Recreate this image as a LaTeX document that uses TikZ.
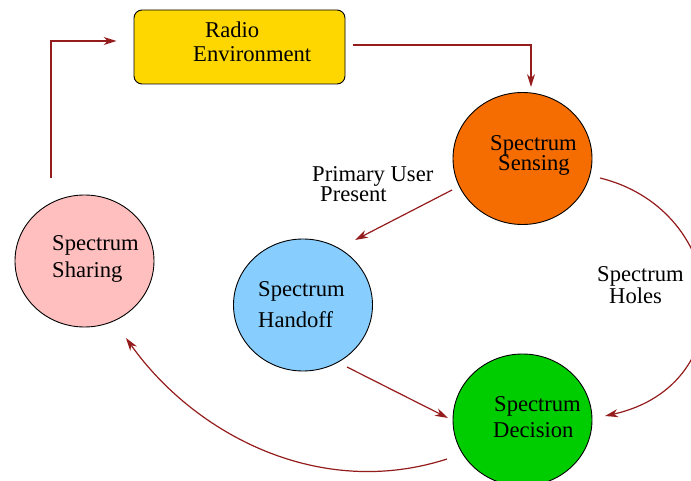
\documentclass[tikz,border=0pt]{standalone}
\usepackage{fontspec}
\setmainfont{Liberation Serif}
\usetikzlibrary{arrows.meta,shapes.geometric}

\definecolor{boxyellow}{HTML}{FFD700}
\definecolor{senseorange}{HTML}{F56C00}
\definecolor{sharepink}{HTML}{FFBFBF}
\definecolor{handblue}{HTML}{87CEFF}
\definecolor{decgreen}{HTML}{00CD00}
\definecolor{arrred}{HTML}{951C1C}

\tikzset{
  stage/.style={ellipse, draw=black, line width=0.9pt, minimum width=139pt,
    minimum height=132pt, inner sep=0pt},
  envbox/.style={rectangle, rounded corners=8pt, draw=black, line width=0.9pt,
    fill=boxyellow, minimum width=211pt, minimum height=74pt, inner sep=0pt},
  txt/.style={anchor=base west, inner sep=0pt, align=left,
    font=\fontsize{22.6}{19}\selectfont},
  arr/.style={draw=arrred, line width=1.2pt,
    -{Stealth[length=13pt,width=8pt,inset=4pt]}},
}

\begin{document}
\begin{tikzpicture}[x=1pt,y=-1pt]
  \clip (0,0) rectangle (691,481);
  \fill[white] (0,0) rectangle (691,481);

  % process blocks
  \node[envbox] (radio) at (239.5,47) {};
  \node[stage, fill=senseorange] (sensing) at (522.5,158.5) {};
  \node[stage, fill=sharepink] (sharing) at (84.5,261) {};
  \node[stage, fill=handblue] (handoff) at (303,305) {};
  \node[stage, fill=decgreen] (decision) at (522.5,420) {};

  % block captions (anchored at the last baseline)
  \node[txt] (radiotxt) at (193,62) {\hspace*{12pt}Radio\\[5pt]Environment};
  \node[txt] (senstxt) at (490,171) {Spectrum\\\hspace*{8pt}Sensing};
  \node[txt] (shartxt) at (52,277) {Spectrum\\[5pt]Sharing};
  \node[txt] (handtxt) at (258,327) {Spectrum\\[9pt]Handoff};
  \node[txt] (dectxt) at (493,437) {\hspace*{1pt}Spectrum\\[5pt]Decision};

  % transition labels
  \node[txt] (putxt) at (312,202) {Primary User\\\hspace*{8pt}Present};
  \node[txt] (holtxt) at (597,303) {Spectrum\\\hspace*{12pt}Holes};

  % cognitive cycle
  \draw[arr] ([shift={(8,-2)}]radio.east) -| ([shift={(8.5,-5)}]sensing.north);
  \draw[arr] ([shift={(-33.5,-17)}]sharing.north) |- ([shift={(-17,-6)}]radio.west);
  \draw[arr] ([shift={(-70.5,31.5)}]sensing.center) -- ([shift={(52,-65)}]handoff.center);
  \draw[arr] ([shift={(44,62)}]handoff.center) -- ([shift={(-74.5,-2)}]decision.center);
  \draw[arr] ([shift={(77.5,19.5)}]sensing.center)
     .. controls (730,210) and (745,385) .. ([shift={(82.5,-4)}]decision.center);
  \draw[arr] ([shift={(-75.5,39)}]decision.center)
     .. controls (320,500) and (195,435) .. ([shift={(41.5,77)}]sharing.center);
\end{tikzpicture}
\end{document}
